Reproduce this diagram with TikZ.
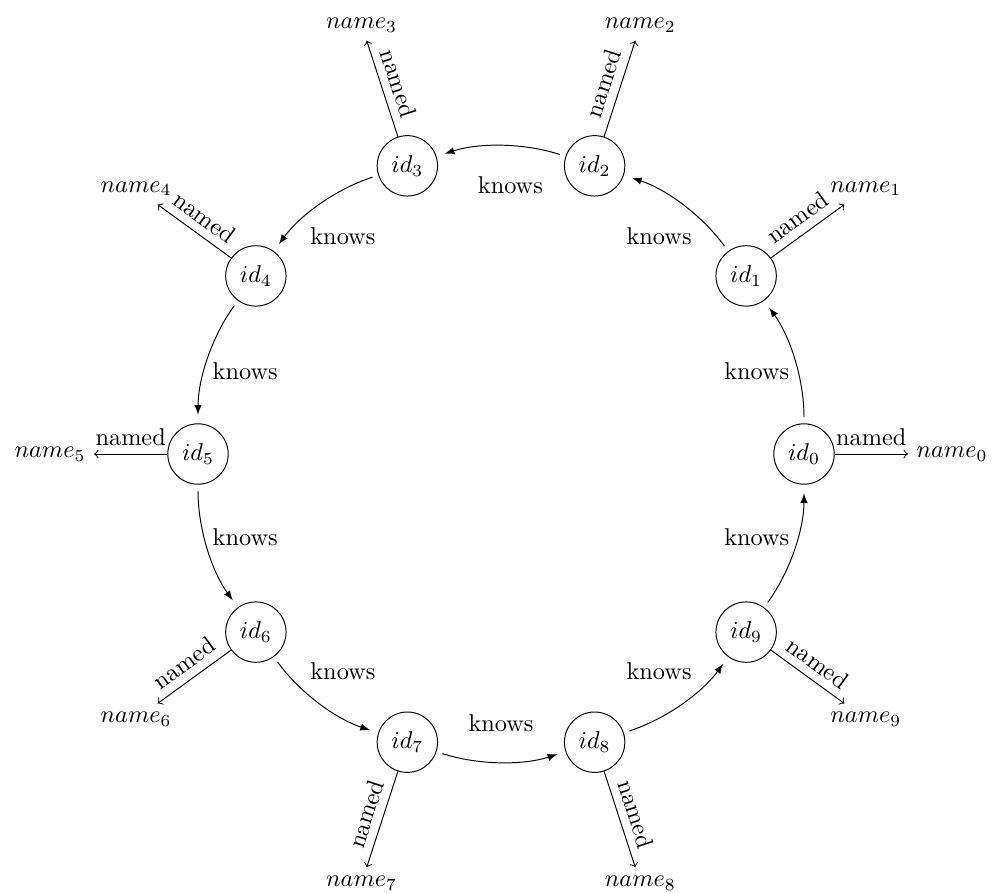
\documentclass[tikz,border=0pt]{standalone}
\usetikzlibrary{arrows}
\begin{document}
\begin{tikzpicture}[
  x=0.4115pt, y=0.4115pt,
  idnode/.style={circle,draw},
  namenode/.style={},
  knowslabel/.style={},
  knowsedge/.style={-latex,bend right=18,looseness=0.88,shorten <=2.5pt,shorten >=3.5pt},
  namededge/.style={->}
]
\useasboundingbox (-501,454) rectangle (491,-438);
\foreach \i in {0,...,9}{
  \node[idnode] (id\i) at (36*\i:303) {$id_{\i}$};
  \node[namenode] (n\i) at (36*\i:451) {$name_{\i}$};
  \draw[namededge] (id\i) -- node[sloped,above] {named} (n\i);
}
\foreach \i [evaluate=\i as \j using {int(mod(\i+1,10))}] in {0,...,9}{
  \draw[knowsedge] (id\i) to (id\j);
}
\foreach \i/\a in {0/18,1/54,2/88,3/126,4/162,5/198,6/234,7/270,8/306,9/342}{
  \node[knowslabel] (k\i) at (\a:269) {knows};
}
\end{tikzpicture}
\end{document}
